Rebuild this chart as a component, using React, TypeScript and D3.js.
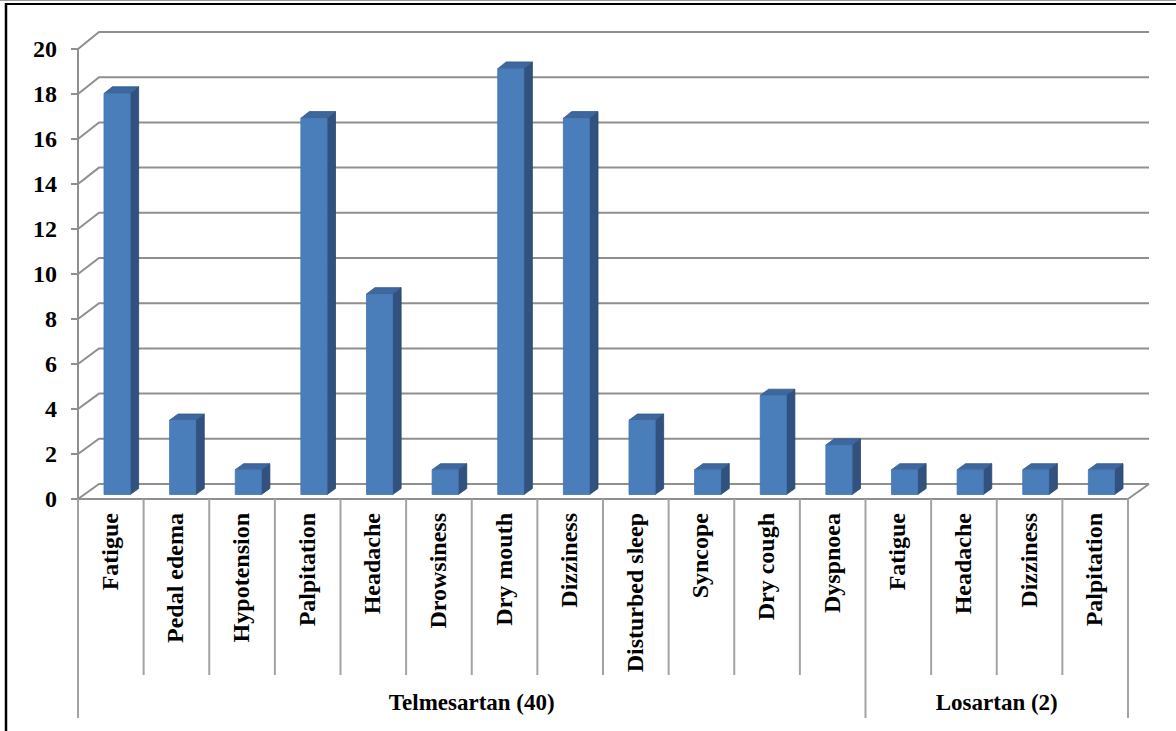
import React from "react";
import * as d3 from "d3";

// Adverse effects (% of patients) per drug group
const categories = [
  "Fatigue", "Pedal edema", "Hypotension", "Palpitation", "Headache", "Drowsiness",
  "Dry mouth", "Dizziness", "Disturbed sleep", "Syncope", "Dry cough", "Dyspnoea",
  "Fatigue", "Headache", "Dizziness", "Palpitation",
];
const values = [17.8, 3.3, 1.1, 16.7, 8.9, 1.1, 18.9, 16.7, 3.3, 1.1, 4.4, 2.2, 1.1, 1.1, 1.1, 1.1];
const groupLabels = ["Telmesartan (40)", "Losartan (2)"];
const groupSizes = [12, 4];
const yTicks = [0, 2, 4, 6, 8, 10, 12, 14, 16, 18, 20];

const W = 1176;
const H = 731;
const FONT = "'Liberation Serif', 'Times New Roman', serif";

const n = categories.length;
const xFront = d3.scaleLinear().domain([0, n]).range([78, 1128]);
const yFront = d3.scaleLinear().domain([0, 20]).range([499, 49]);
const yBack = d3.scaleLinear().domain([0, 20]).range([484, 32]);
const DX = 21;

// project (category position, value, depth 0..1) into screen coordinates
const proj = (xi: number, v: number, d: number): [number, number] => [
  xFront(xi) + d * DX,
  yFront(v) * (1 - d) + yBack(v) * d,
];

const poly = (pts: [number, number][]) => pts.map((p) => p.join(",")).join(" ");

const GRID = "#8f8f8f";

export default function App() {
  const d0 = 0.3;
  const d1 = 0.7;
  const groupBounds: number[] = [0];
  groupSizes.forEach((s) => groupBounds.push(groupBounds[groupBounds.length - 1] + s));

  return (
    <svg
      width={W}
      height={H}
      style={{ position: "absolute", left: 0, top: 0, display: "block", background: "#fff" }}
    >
      {/* frame */}
      <line x1={0} x2={W} y1={0.5} y2={0.5} stroke="#9a9a9a" strokeWidth={1} />
      <line x1={5} x2={W} y1={4} y2={4} stroke="#000" strokeWidth={2} />
      <line x1={6} x2={6} y1={3} y2={H} stroke="#000" strokeWidth={2.5} />

      {/* walls: gridlines on side wall and back wall */}
      {yTicks.map((t) => {
        const a = proj(0, t, 0);
        const b = proj(0, t, 1);
        const c = proj(n, t, 1);
        return (
          <polyline
            key={"g" + t}
            points={poly([a, b, c])}
            fill="none"
            stroke={GRID}
            strokeWidth={2}
          />
        );
      })}
      {/* floor right edge */}
      <line
        x1={proj(n, 0, 0)[0]}
        y1={proj(n, 0, 0)[1]}
        x2={proj(n, 0, 1)[0]}
        y2={proj(n, 0, 1)[1]}
        stroke={GRID}
        strokeWidth={2}
      />

      {/* bars */}
      {values.map((v, i) => {
        const x0 = i + 0.3;
        const x1 = i + 0.7;
        const front = [proj(x0, 0, d0), proj(x1, 0, d0), proj(x1, v, d0), proj(x0, v, d0)];
        const side = [proj(x1, 0, d0), proj(x1, 0, d1), proj(x1, v, d1), proj(x1, v, d0)];
        const top = [proj(x0, v, d0), proj(x1, v, d0), proj(x1, v, d1), proj(x0, v, d1)];
        return (
          <g key={"b" + i} strokeWidth={0.8} strokeLinejoin="round">
            <polygon points={poly(side)} fill="#31527e" stroke="#2a476d" />
            <polygon points={poly(top)} fill="#3d679d" stroke="#34598a" />
            <polygon points={poly(front)} fill="#4a7ebb" stroke="#4374b0" />
          </g>
        );
      })}

      {/* value axis */}
      <line x1={xFront(0)} x2={xFront(0)} y1={yFront(0)} y2={yFront(20)} stroke={GRID} strokeWidth={2} />
      {yTicks.map((t) => (
        <g key={"t" + t}>
          <line x1={71} x2={xFront(0)} y1={yFront(t)} y2={yFront(t)} stroke={GRID} strokeWidth={2} />
          <text
            x={57}
            y={yFront(t)}
            textAnchor="end"
            dominantBaseline="central"
            fontFamily={FONT}
            fontWeight="bold"
            fontSize={24}
            fill="#000"
          >
            {t}
          </text>
        </g>
      ))}

      {/* category axis */}
      <line x1={xFront(0)} x2={xFront(n)} y1={yFront(0)} y2={yFront(0)} stroke={GRID} strokeWidth={2} />
      {d3.range(n + 1).map((k) => {
        const isGroup = groupBounds.includes(k);
        return (
          <line
            key={"d" + k}
            x1={xFront(k)}
            x2={xFront(k)}
            y1={yFront(0)}
            y2={isGroup ? 718 : 675}
            stroke="#a3a3a3"
            strokeWidth={2}
          />
        );
      })}
      {categories.map((c, i) => (
        <text
          key={"c" + i}
          transform={`translate(${xFront(i + 0.5) + 7},513) rotate(-90)`}
          textAnchor="end"
          fontFamily={FONT}
          fontWeight="bold"
          fontSize={24}
          fill="#000"
        >
          {c}
        </text>
      ))}
      {groupLabels.map((g, k) => (
        <text
          key={"gl" + k}
          x={xFront((groupBounds[k] + groupBounds[k + 1]) / 2)}
          y={710}
          textAnchor="middle"
          fontFamily={FONT}
          fontWeight="bold"
          fontSize={23}
          fill="#000"
        >
          {g}
        </text>
      ))}
    </svg>
  );
}
